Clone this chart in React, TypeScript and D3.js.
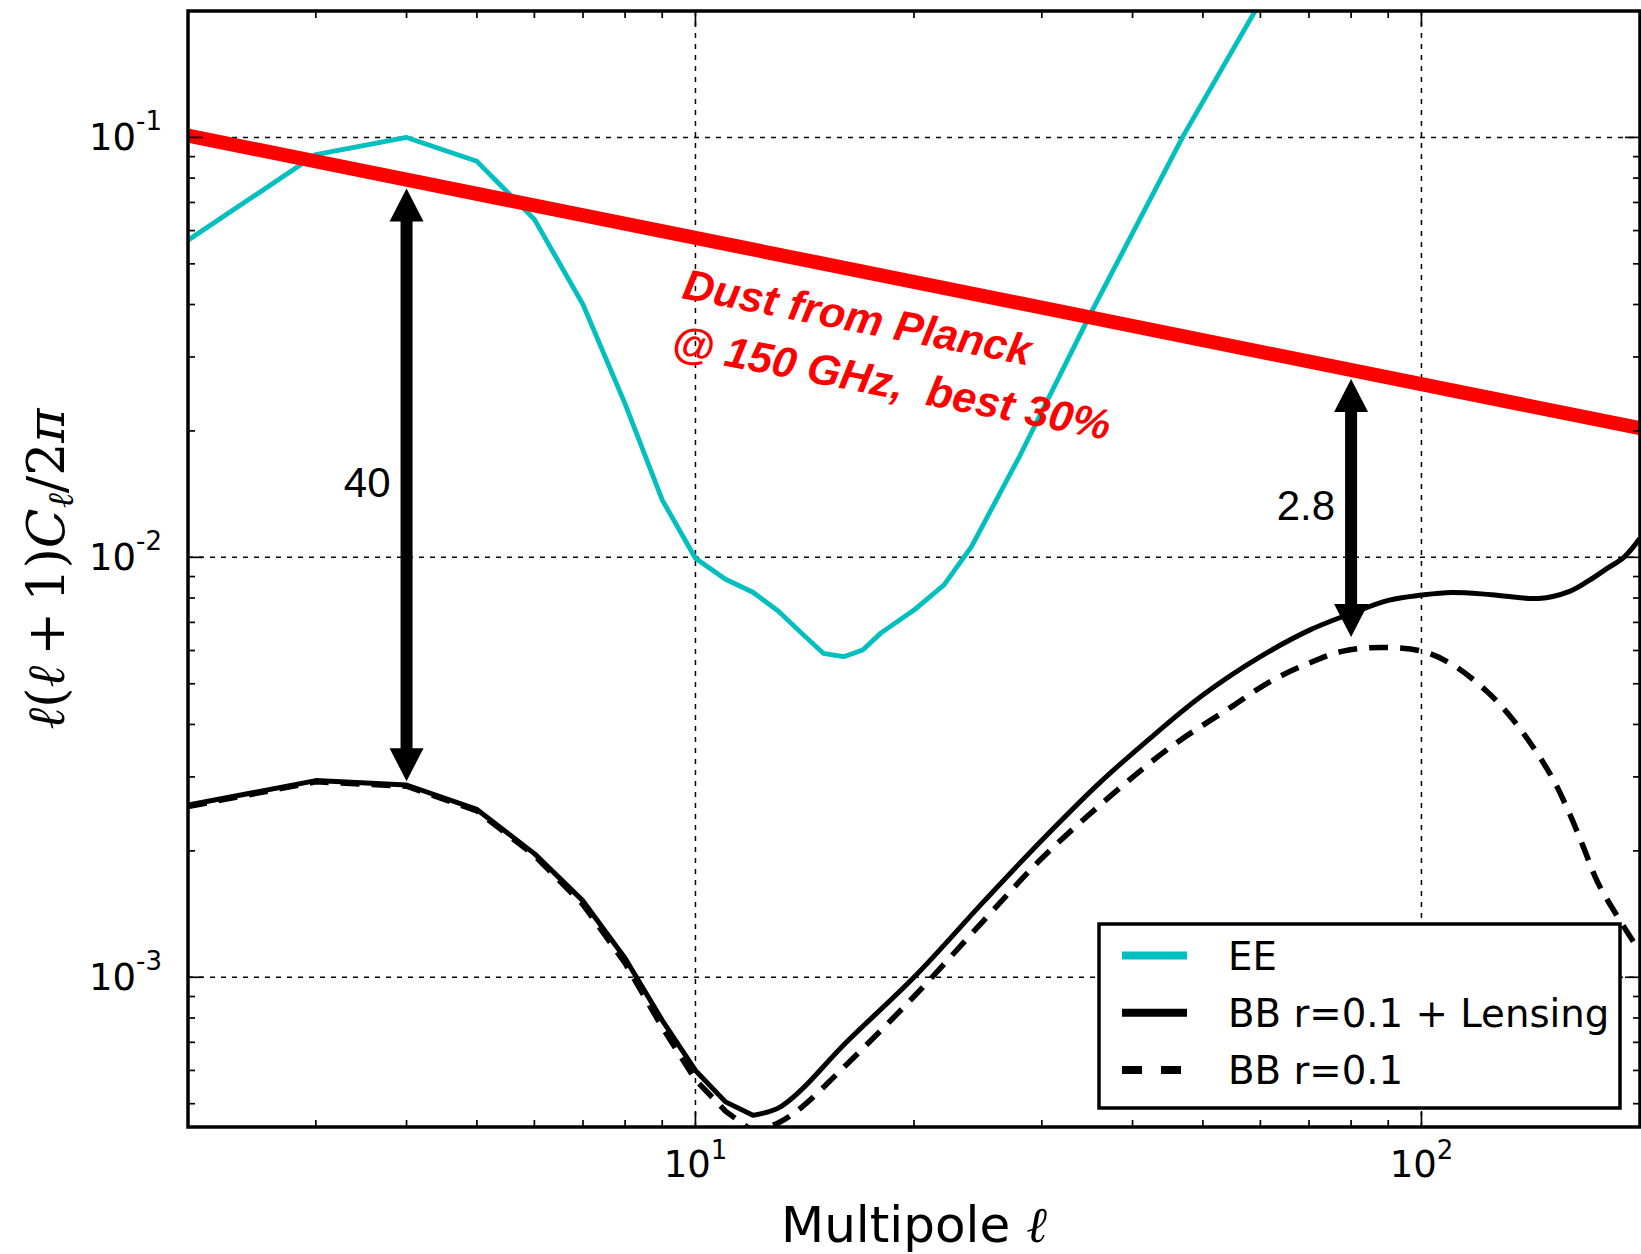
import { useEffect, useRef } from "react"
import * as d3 from "d3"

const W = 1641
const H = 1254

// axis limits
const X_DOMAIN = [2, 200]
const Y_DOMAIN = [4.4e-4, 0.2]
const X_MAJOR = [10, 100]
const X_MINOR = [3, 4, 5, 6, 7, 8, 9, 20, 30, 40, 50, 60, 70, 80, 90]
const Y_MAJOR = [1e-3, 1e-2, 1e-1]
const Y_MINOR = [5e-4, 6e-4, 7e-4, 8e-4, 9e-4, 2e-3, 3e-3, 4e-3, 5e-3, 6e-3, 7e-3, 8e-3, 9e-3,
    2e-2, 3e-2, 4e-2, 5e-2, 6e-2, 7e-2, 8e-2, 9e-2]
const X_TICK_LABELS = ["1", "2"]
const Y_TICK_LABELS = ["-3", "-2", "-1"]

// EE spectrum
const eeEll = [2, 3, 4, 5, 6, 7, 8, 9, 10, 11, 12, 13, 14, 15, 16, 17, 18, 20, 22, 24, 28, 35, 47, 59, 65]
const eeVal = [0.0569, 0.091, 0.1, 0.0877, 0.0638, 0.04, 0.0232, 0.0137, 0.00995, 0.00887, 0.00826, 0.00745,
    0.0066, 0.00591, 0.0058, 0.00602, 0.0066, 0.00749, 0.0086, 0.0106, 0.0175, 0.038, 0.101, 0.2, 0.28]

// BB r=0.1 + lensing
const bbLensEll = [2, 3, 4, 5, 6, 7, 8, 9, 10, 11, 12, 13, 14, 16, 20, 25, 30, 36, 43, 50, 60, 70, 80, 90,
    100, 110, 125, 145, 160, 170, 180, 190, 200]
const bbLensVal = [0.00257, 0.00294, 0.00287, 0.00251, 0.00197, 0.00152, 0.00111, 0.00079, 0.0006, 0.000505,
    0.000469, 0.000488, 0.00054, 0.00069, 0.001, 0.00152, 0.00212, 0.0029, 0.0038, 0.0047, 0.0058, 0.0067,
    0.00735, 0.0079, 0.00813, 0.00825, 0.00815, 0.00798, 0.0083, 0.0088, 0.0094, 0.01, 0.0111]

// BB r=0.1 primordial
const bbPrimEll = [2, 3, 4, 5, 6, 7, 8, 9, 10, 11, 12, 13, 14, 16, 20, 25, 30, 37, 45, 55, 62, 70, 78, 88,
    100, 110, 123, 133, 143, 152, 160, 167, 175, 190, 200]
const bbPrimVal = [0.00255, 0.00292, 0.00285, 0.00249, 0.00195, 0.00149, 0.00108, 0.00076, 0.00057, 0.00048,
    0.00043, 0.00045, 0.00049, 0.00061, 0.0009, 0.00137, 0.00192, 0.00267, 0.00352, 0.00443, 0.00507, 0.0056,
    0.00598, 0.0061, 0.00598, 0.00557, 0.0048, 0.00415, 0.0035, 0.00295, 0.00245, 0.00205, 0.00168, 0.00132,
    0.00115]

// Planck dust power law at 150 GHz
const dustEll = [2, 200]
const dustVal = [0.101, 0.0203]

// ratio arrows
const arrowEll = [4, 80]
const arrowTop = [0.0756, 0.0266]
const arrowBottom = [0.00293, 0.00646]
const arrowText = ["40", "2.8"]

const LEGEND = [
    { name: "EE", color: "#00bfbf", dash: null },
    { name: "BB r=0.1 + Lensing", color: "black", dash: null },
    { name: "BB r=0.1", color: "black", dash: "20,19" },
]

const SANS = "'DejaVu Sans', sans-serif"
const ARIAL = "'Liberation Sans', Arial, sans-serif"
const SERIF = "'DejaVu Serif', serif"

// below this multipole the spectra were sampled at every integer, so draw straight segments
const LINEAR_UNTIL = 12

export default function App() {
    const svgRef = useRef<SVGSVGElement>(null)

    useEffect(() => {
        const svg = d3.select(svgRef.current)
        svg.selectAll("*").remove()

        const left = 188, right = 1640, top = 11, bottom = 1127
        const x = d3.scaleLog().domain(X_DOMAIN).range([left, right])
        const y = d3.scaleLog().domain(Y_DOMAIN).range([bottom, top])

        svg.append("rect").attr("width", W).attr("height", H).attr("fill", "white")

        svg.append("defs").append("clipPath").attr("id", "plotclip")
            .append("rect")
            .attr("x", left).attr("y", top)
            .attr("width", right - left).attr("height", bottom - top)

        // grid
        const grid = svg.append("g")
            .attr("stroke", "black")
            .attr("stroke-width", 1.5)
            .attr("stroke-dasharray", "5,6")
        X_MAJOR.forEach(v => {
            grid.append("line").attr("x1", x(v)).attr("x2", x(v)).attr("y1", top).attr("y2", bottom)
        })
        Y_MAJOR.forEach(v => {
            grid.append("line").attr("x1", left).attr("x2", right).attr("y1", y(v)).attr("y2", y(v))
        })

        const plot = svg.append("g").attr("clip-path", "url(#plotclip)")

        const pairs = (ells: number[], vals: number[]) => ells.map((e, i) => [e, vals[i]] as [number, number])

        const straight = d3.line<[number, number]>()
            .x(d => x(d[0])).y(d => y(d[1]))
        const smooth = d3.line<[number, number]>()
            .x(d => x(d[0])).y(d => y(d[1]))
            .curve(d3.curveCatmullRom.alpha(0.5))
        // straight segments at low ell, smooth curve above
        const mixed = (pts: [number, number][]) => {
            const lo = pts.filter(p => p[0] <= LINEAR_UNTIL)
            const hi = pts.filter(p => p[0] >= LINEAR_UNTIL)
            const a = straight(lo) || ""
            const b = (smooth(hi) || "").replace(/^M[^A-Za-z]*/, "")
            return a + b
        }

        plot.append("path")
            .datum(pairs(eeEll, eeVal))
            .attr("d", straight)
            .attr("fill", "none")
            .attr("stroke", "#00bfbf")
            .attr("stroke-width", 4.8)
            .attr("stroke-linejoin", "round")

        plot.append("path")
            .attr("d", mixed(pairs(bbPrimEll, bbPrimVal)))
            .attr("fill", "none")
            .attr("stroke", "black")
            .attr("stroke-width", 5.5)
            .attr("stroke-dasharray", "19,12")

        plot.append("path")
            .attr("d", mixed(pairs(bbLensEll, bbLensVal)))
            .attr("fill", "none")
            .attr("stroke", "black")
            .attr("stroke-width", 5)
            .attr("stroke-linejoin", "round")

        // dust line
        plot.append("path")
            .datum(pairs(dustEll, dustVal))
            .attr("d", straight)
            .attr("fill", "none")
            .attr("stroke", "#ff0000")
            .attr("stroke-width", 14)

        // arrows
        const headLen = 33, headW = 34, shaftW = 12
        arrowEll.forEach((e, i) => {
            const ax = x(e)
            const y1 = y(arrowTop[i])
            const y2 = y(arrowBottom[i])
            const g = svg.append("g").attr("fill", "black")
            g.append("rect")
                .attr("x", ax - shaftW / 2).attr("y", y1 + headLen - 1)
                .attr("width", shaftW).attr("height", y2 - y1 - 2 * headLen + 2)
            g.append("path")
                .attr("d", `M${ax},${y1} L${ax - headW / 2},${y1 + headLen} L${ax + headW / 2},${y1 + headLen} Z`)
            g.append("path")
                .attr("d", `M${ax},${y2} L${ax - headW / 2},${y2 - headLen} L${ax + headW / 2},${y2 - headLen} Z`)
            svg.append("text")
                .attr("x", ax - 16)
                .attr("y", (y1 + y2) / 2 + 12)
                .attr("text-anchor", "end")
                .attr("font-family", ARIAL)
                .attr("font-size", 42)
                .attr("fill", "black")
                .text(arrowText[i])
        })

        // red annotation
        const note = svg.append("g")
            .attr("transform", "translate(681,298) rotate(11)")
            .attr("font-family", ARIAL)
            .attr("font-weight", "bold")
            .attr("font-style", "italic")
            .attr("font-size", 43)
            .attr("fill", "#ff0000")
        note.append("text").attr("x", 0).attr("y", 0).text("Dust from Planck")
        note.append("text").attr("x", 0).attr("y", 58)
            .style("white-space", "pre")
            .text("@ 150 GHz,  best 30%")

        // legend
        const lg = svg.append("g")
        lg.append("rect")
            .attr("x", 1099).attr("y", 924).attr("width", 521).attr("height", 184)
            .attr("fill", "white").attr("stroke", "black").attr("stroke-width", 3.5)
        LEGEND.forEach((d, i) => {
            const cy = 955.5 + i * 57.3
            lg.append("line")
                .attr("x1", 1122).attr("x2", 1187).attr("y1", cy).attr("y2", cy)
                .attr("stroke", d.color).attr("stroke-width", 8)
                .attr("stroke-dasharray", d.dash)
            lg.append("text")
                .attr("x", 1228).attr("y", cy + 14)
                .attr("font-family", SANS).attr("font-size", 38.7)
                .text(d.name)
        })

        // spines and ticks
        const axes = svg.append("g").attr("stroke", "black")
        axes.append("rect")
            .attr("x", left).attr("y", top).attr("width", right - left).attr("height", bottom - top)
            .attr("fill", "none").attr("stroke-width", 3.5)
        const tickX = (v: number, len: number) => {
            axes.append("line").attr("x1", x(v)).attr("x2", x(v)).attr("y1", bottom).attr("y2", bottom - len).attr("stroke-width", 1.7)
            axes.append("line").attr("x1", x(v)).attr("x2", x(v)).attr("y1", top).attr("y2", top + len).attr("stroke-width", 1.7)
        }
        const tickY = (v: number, len: number) => {
            axes.append("line").attr("x1", left).attr("x2", left + len).attr("y1", y(v)).attr("y2", y(v)).attr("stroke-width", 1.7)
            axes.append("line").attr("x1", right).attr("x2", right - len).attr("y1", y(v)).attr("y2", y(v)).attr("stroke-width", 1.7)
        }
        X_MAJOR.forEach(v => tickX(v, 15))
        X_MINOR.forEach(v => tickX(v, 7))
        Y_MAJOR.forEach(v => tickY(v, 15))
        Y_MINOR.forEach(v => tickY(v, 7))

        // tick labels
        X_MAJOR.forEach((v, i) => {
            const t = svg.append("text")
                .attr("x", x(v)).attr("y", 1177)
                .attr("text-anchor", "middle")
                .attr("font-family", SANS).attr("font-size", 37)
            t.append("tspan").text("10")
            t.append("tspan").attr("dy", -18).attr("font-size", 26).text(X_TICK_LABELS[i])
        })
        Y_MAJOR.forEach((v, i) => {
            const t = svg.append("text")
                .attr("x", 162).attr("y", y(v) + 13)
                .attr("text-anchor", "end")
                .attr("font-family", SANS).attr("font-size", 37)
            t.append("tspan").text("10")
            t.append("tspan").attr("dy", -20).attr("font-size", 26).text(Y_TICK_LABELS[i])
        })

        // axis labels
        const xl = svg.append("text")
            .attr("x", (left + right) / 2).attr("y", 1242)
            .attr("text-anchor", "middle")
            .attr("font-family", SANS).attr("font-size", 50)
            .style("white-space", "pre")
        xl.append("tspan").text("Multipole ")
        xl.append("tspan").attr("font-family", SERIF).attr("font-style", "italic").text("ℓ")

        const yl = svg.append("text")
            .attr("transform", `translate(64,${(top + bottom) / 2}) rotate(-90)`)
            .attr("text-anchor", "middle")
            .attr("font-family", SERIF).attr("font-size", 52)
            .style("white-space", "pre")
        yl.append("tspan").attr("font-style", "italic").text("ℓ")
        yl.append("tspan").text("(")
        yl.append("tspan").attr("font-style", "italic").text("ℓ")
        yl.append("tspan").text("\u2009+\u20091)")
        yl.append("tspan").attr("font-style", "italic").text("C")
        yl.append("tspan").attr("font-style", "italic").attr("font-size", 36).attr("dy", 9).text("ℓ")
        yl.append("tspan").attr("dy", -9).text("/2")
        yl.append("tspan").attr("font-style", "italic").text("π")
    }, [])

    return (
        <div style={{ position: "absolute", left: 0, top: 0 }}>
            <svg ref={svgRef} width={W} height={H} style={{ display: "block" }} />
        </div>
    )
}
